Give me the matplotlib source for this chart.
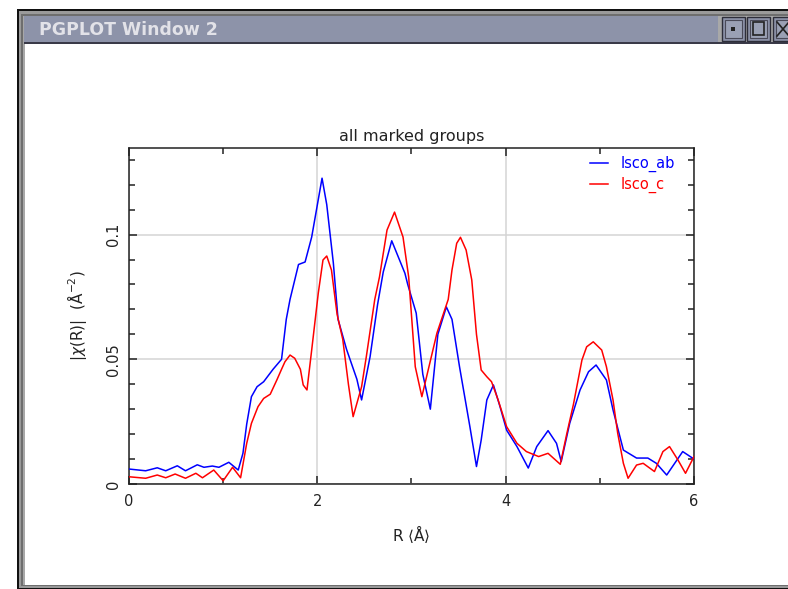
import matplotlib
matplotlib.use("Agg")
import matplotlib.pyplot as plt
from matplotlib.patches import Rectangle

# |chi(R)| for the two marked groups
r_ab = [0.0, 0.177, 0.30, 0.39, 0.513, 0.60, 0.725, 0.796, 0.885, 0.955, 1.06, 1.16,
        1.21, 1.25, 1.30, 1.36, 1.43, 1.53, 1.62, 1.67, 1.71, 1.80, 1.87, 1.94, 2.05,
        2.10, 2.17, 2.22, 2.31, 2.42, 2.47, 2.56, 2.64, 2.70, 2.79, 2.93, 2.96, 3.05,
        3.12, 3.20, 3.28, 3.37, 3.43, 3.51, 3.62, 3.69, 3.74, 3.80, 3.87, 3.94, 4.01,
        4.12, 4.24, 4.33, 4.45, 4.54, 4.59, 4.68, 4.79, 4.88, 4.96, 5.07, 5.14, 5.25,
        5.39, 5.51, 5.60, 5.71, 5.88, 6.0]
chi_ab = [0.0060, 0.0053, 0.0065, 0.0053, 0.0073, 0.0053, 0.0077, 0.0067, 0.0072, 0.0067,
          0.0087, 0.0056, 0.0123, 0.0240, 0.0350, 0.0390, 0.0410, 0.0460, 0.0500, 0.0660,
          0.0740, 0.0880, 0.0890, 0.0990, 0.1226, 0.1120, 0.0886, 0.0660, 0.0540, 0.0420,
          0.0337, 0.0510, 0.0720, 0.0850, 0.0975, 0.0845, 0.0800, 0.0685, 0.0440, 0.0300,
          0.0600, 0.0710, 0.0660, 0.0470, 0.0230, 0.0070, 0.0176, 0.0337, 0.0397, 0.0310,
          0.0216, 0.0150, 0.0064, 0.0150, 0.0214, 0.0163, 0.0090, 0.0243, 0.0377, 0.0450,
          0.0477, 0.0417, 0.0297, 0.0136, 0.0104, 0.0104, 0.0083, 0.0036, 0.0130, 0.0100]

r_c = [0.0, 0.177, 0.30, 0.39, 0.49, 0.60, 0.71, 0.78, 0.90, 1.00, 1.10, 1.185,
       1.25, 1.30, 1.37, 1.43, 1.50, 1.57, 1.62, 1.656, 1.71, 1.76, 1.82, 1.85, 1.89,
       1.94, 2.01, 2.06, 2.10, 2.15, 2.21, 2.27, 2.33, 2.38, 2.47, 2.52, 2.61, 2.66,
       2.74, 2.82, 2.91, 2.97, 3.04, 3.11, 3.27, 3.39, 3.43, 3.48, 3.52, 3.58, 3.64,
       3.69, 3.74, 3.80, 3.85, 3.92, 4.01, 4.12, 4.22, 4.35, 4.45, 4.58, 4.65, 4.72,
       4.81, 4.86, 4.93, 5.02, 5.07, 5.14, 5.19, 5.25, 5.30, 5.39, 5.46, 5.58, 5.67,
       5.74, 5.83, 5.91, 6.0]
chi_c = [0.0029, 0.0023, 0.0036, 0.0025, 0.0040, 0.0023, 0.0043, 0.0025, 0.0056, 0.0013,
         0.0067, 0.0025, 0.0163, 0.0243, 0.0310, 0.0343, 0.0360, 0.0417, 0.0460, 0.0490,
         0.0517, 0.0504, 0.0460, 0.0397, 0.0377, 0.0537, 0.0765, 0.0898, 0.0914, 0.0858,
         0.0680, 0.0580, 0.0400, 0.0270, 0.0390, 0.0510, 0.0740, 0.0830, 0.1018, 0.1090,
         0.0990, 0.0830, 0.0470, 0.0350, 0.0605, 0.0740, 0.0858, 0.0965, 0.0989, 0.0938,
         0.0818, 0.0600, 0.0457, 0.0430, 0.0410, 0.0337, 0.0230, 0.0163, 0.0130, 0.0110,
         0.0123, 0.0079, 0.0203, 0.0320, 0.0497, 0.0550, 0.0570, 0.0537, 0.0470, 0.0337,
         0.0203, 0.0083, 0.0023, 0.0076, 0.0083, 0.0050, 0.0130, 0.0150, 0.0096, 0.0043,
         0.0110]

series_names = ["lsco_ab", "lsco_c"]
series_colors = ["#0000ff", "#ff0000"]

W, H = 788, 589
fig = plt.figure(figsize=(W / 100, H / 100), dpi=100)
fig.patch.set_facecolor("white")

# ---- window frame drawn in pixel coordinates ----
chrome = fig.add_axes([0, 0, 1, 1], zorder=0)
chrome.set_xlim(0, W)
chrome.set_ylim(H, 0)
chrome.axis("off")

def box(x0, y0, x1, y1, fc, ec="none", lw=0):
    chrome.add_patch(Rectangle((x0, y0), x1 - x0, y1 - y0, facecolor=fc,
                               edgecolor=ec, linewidth=lw))

box(17, 9, W + 5, H + 5, "#111111")          # outer dark edge
box(19, 11, W + 5, H - 1, "#9a9a9a")         # grey frame
box(21, 14, W + 5, H - 3, "#6e6e6e")
box(23, 16, W + 5, H - 4, "#a8a8a8")
box(24, 16, 718, 42, "#8d93a9")              # title bar
box(24, 42, W + 5, 44, "#3a3a48")
box(25, 44, W + 5, H - 4, "#ffffff")         # client area
chrome.text(39, 30, "PGPLOT Window 2", color="#e2e2e8", fontsize=12.5,
            fontweight="bold", va="center", ha="left", family="DejaVu Sans")

# title bar buttons
for bx in (722, 747, 773):
    box(bx, 17, bx + 23, 41, "#8d93a9", ec="#2e2e3a", lw=1.0)
    box(bx + 3, 20, bx + 20, 38, "#9aa0b4", ec="#4a4a58", lw=0.8)
chrome.add_patch(Rectangle((731, 27), 4, 4, facecolor="#222222"))
chrome.add_patch(Rectangle((753, 22), 11, 13, facecolor="none", edgecolor="#222222", lw=1.2))
chrome.plot([777, 789], [22, 36], color="#222222", lw=1.2)
chrome.plot([777, 789], [36, 22], color="#222222", lw=1.2)

# ---- the plot ----
left, right, top, bottom = 129, 694, 148, 484
ax = fig.add_axes([left / W, (H - bottom) / H, (right - left) / W, (bottom - top) / H],
                  zorder=2)
ax.set_facecolor("white")

for x, y, c, name in zip([r_ab, r_c], [chi_ab, chi_c], series_colors, series_names):
    ax.plot(x, y, color=c, lw=1.1, label=name, zorder=3)

ax.set_xlim(0, 6)
ax.set_ylim(0, 0.1347)
ax.set_xticks([0, 2, 4, 6])
ax.set_xticklabels(["0", "2", "4", "6"])
ax.set_xticks([1, 3, 5], minor=True)
ax.set_yticks([0, 0.05, 0.1])
ax.set_yticklabels(["0", "0.05", "0.1"])
ax.set_yticks([0.01 * i for i in range(1, 14) if i not in (5, 10)], minor=True)
ax.grid(True, which="major", color="#d4d4d4", lw=1.1, zorder=1)
ax.set_axisbelow(True)

ax.tick_params(which="both", direction="in", top=True, right=True, color="#222222",
               width=1.1, labelsize=10.5, labelcolor="#222222")
ax.tick_params(which="major", length=6)
ax.tick_params(which="minor", length=4)
ax.tick_params(axis="x", pad=7)
for lbl in ax.get_yticklabels():
    lbl.set_rotation(90)
    lbl.set_va("center")
ax.tick_params(axis="y", pad=6)
for s in ax.spines.values():
    s.set_color("#222222")
    s.set_linewidth(1.1)

ax.set_title("all marked groups", fontsize=11.5, color="#222222", pad=5)
ax.set_xlabel(r"R $\langle$Å$\rangle$", fontsize=11, color="#222222", labelpad=10)
ax.set_ylabel(r"|$\chi$(R)|  (Å$^{-2}$)", fontsize=11, color="#222222", labelpad=12)

leg = ax.legend(loc="upper right", bbox_to_anchor=(1.0, 1.033), frameon=False,
                fontsize=10.5, handlelength=1.2, handletextpad=0.9,
                borderaxespad=0.9, labelspacing=0.35)
for txt, c in zip(leg.get_texts(), series_colors):
    txt.set_color(c)

fig.savefig("out.png", dpi=100, facecolor="white")
